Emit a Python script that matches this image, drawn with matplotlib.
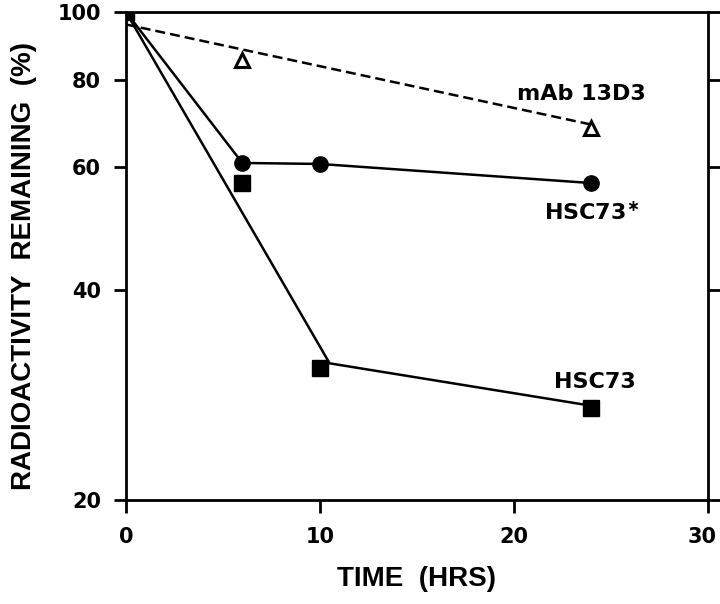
import numpy as np
import matplotlib
matplotlib.use("Agg")
import matplotlib.pyplot as plt
from matplotlib.ticker import FixedLocator, NullLocator, FixedFormatter
from matplotlib.transforms import ScaledTranslation

# measured points
t_pts = [0, 6, 10, 24]
hsc73_star = [100, 60.8, 60.6, 56.9]
hsc73 = [100, 57.0, 30.9, 27.1]
mab_t = [6, 24]
mab = [85.4, 68.2]

# fitted lines drawn in the figure
hsc73_fit_t = [0, 10.5, 24]
hsc73_fit = [100, 31.4, 27.3]
mab_fit_t = [0, 24]
mab_fit = [96, 69]

yticks = [20, 40, 60, 80, 100]
xticks = [0, 10, 20, 30]

plt.rcParams["font.family"] = ["DejaVu Sans"]
plt.rcParams["font.weight"] = "bold"
label_font = ["Liberation Sans", "DejaVu Sans"]

fig = plt.figure(figsize=(7.2, 6.04), dpi=100)
ax = fig.add_axes([0.175, 0.172, 0.808, 0.808])

lw = 1.8
ax.plot(mab_fit_t, mab_fit, color="black", lw=lw, ls=(0, (4, 2)))
ax.plot(t_pts, hsc73_star, color="black", lw=lw, marker="o", ms=11)
ax.plot(hsc73_fit_t, hsc73_fit, color="black", lw=lw)
ax.plot(t_pts, hsc73, color="black", ls="none", marker="s", ms=11.5)
ax.plot(mab_t, mab, color="black", ls="none", marker="^", ms=10,
        mfc="white", mew=2.2)

ax.set_yscale("log")
ax.set_ylim(20, 100)
ax.set_xlim(0, 30)
ax.yaxis.set_major_locator(FixedLocator(yticks))
ax.yaxis.set_major_formatter(FixedFormatter([str(v) for v in yticks]))
ax.yaxis.set_minor_locator(NullLocator())
ax.set_xticks(xticks)

for s in ax.spines.values():
    s.set_linewidth(2)
ax.tick_params(axis="both", direction="out", length=9, width=2,
               labelsize=15)
ax.tick_params(axis="y", right=True, pad=9)
ax.tick_params(axis="x", pad=10)

# last x tick label sits a little inside the figure edge
last = ax.get_xticklabels()[-1]
last.set_transform(last.get_transform() + ScaledTranslation(-6 / 100, 0, fig.dpi_scale_trans))

ax.text(23.5, 76.3, "mAb 13D3", ha="center", va="center", fontsize=16, fontweight="bold")
ax.text(24.0, 51.7, r"HSC73$^{\ast}$", ha="center", va="center", fontsize=16, fontweight="bold")
ax.text(24.2, 29.5, "HSC73", ha="center", va="center", fontsize=16, fontweight="bold")

ax.set_xlabel("TIME  (HRS)", fontsize=20, fontweight="bold", labelpad=14, family=label_font)
ax.set_ylabel("RADIOACTIVITY  REMAINING  (%)", fontsize=20, fontweight="bold",
              labelpad=15, family=label_font)
ax.yaxis.label.set_y(0.48)

fig.savefig("out.png", dpi=100)
